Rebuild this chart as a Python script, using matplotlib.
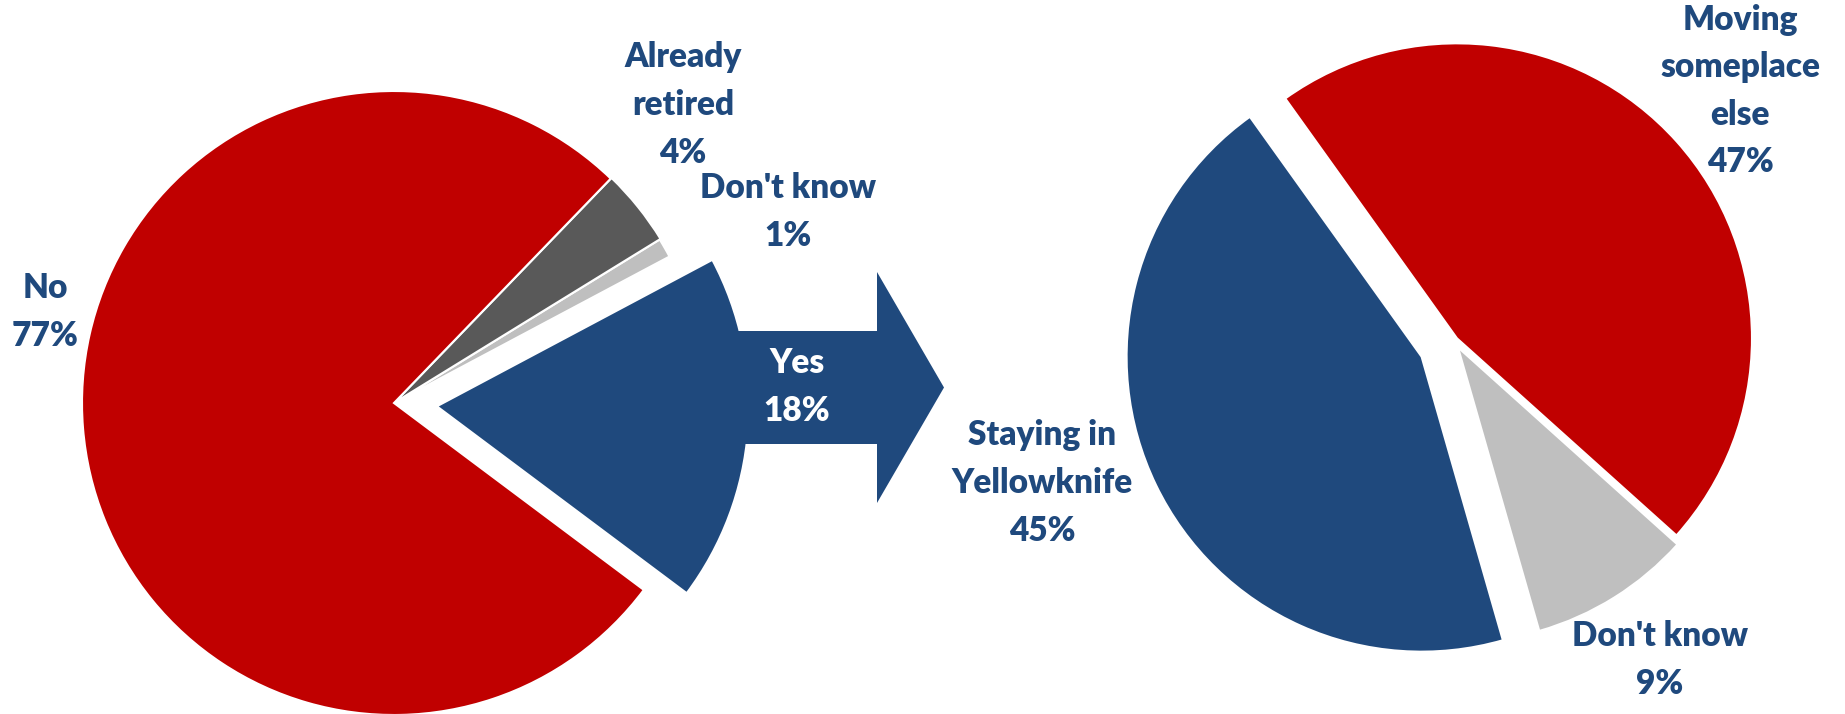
import matplotlib.pyplot as plt
from matplotlib.patches import FancyArrow

plt.rcParams['font.family'] = ['Lato', 'DejaVu Sans']

# Left pie: planning to retire
retire_labels = ['Yes', "Don't know", 'Already\nretired', 'No']
retire_values = [18, 1, 4, 77]
retire_colors = ['#1F497D', '#BFBFBF', '#595959', '#C00000']

# Right pie: where (among "Yes")
where_labels = ['Staying in\nYellowknife', "Don't know", 'Moving\nsomeplace\nelse']
where_values = [45, 9, 47]
where_colors = ['#1F497D', '#BFBFBF', '#C00000']

navy = '#1F497D'
W, H = 1845, 714

fig = plt.figure(figsize=(W / 100, H / 100), dpi=100)
ax = fig.add_axes([0, 0, 1, 1])

# explode offsets are in data units (pixels here)
ax.pie(retire_values, colors=retire_colors, explode=[43, 0, 1, 0],
       startangle=-36.8, counterclock=True, center=(394, 311), radius=312,
       wedgeprops=dict(edgecolor='white', linewidth=1.5))

ax.pie(where_values, colors=where_colors, explode=[36, 7.5, 4],
       startangle=125.6, counterclock=True, center=(1454, 373), radius=295,
       wedgeprops=dict(edgecolor='white', linewidth=1.5))

# block arrow leading from the "Yes" slice to the breakdown pie
arrow = FancyArrow(700, H - 387.5, 244, 0, width=113, head_width=231,
                   head_length=67, length_includes_head=True,
                   color=navy, linewidth=0, zorder=3)
ax.add_patch(arrow)

txt = dict(fontsize=24, fontweight='heavy', ha='center', va='center',
           linespacing=1.6, zorder=4)

left_pos = [(797, 387), (788, 212), (683, 105), (45, 312)]
for lab, val, (x, y) in zip(retire_labels, retire_values, left_pos):
    col = 'white' if lab == 'Yes' else navy
    ax.text(x, H - y, f'{lab}\n{val}%', color=col, **txt)

right_pos = [(1042, 483), (1660, 660), (1740, 91)]
for lab, val, (x, y) in zip(where_labels, where_values, right_pos):
    ax.text(x, H - y, f'{lab}\n{val}%', color=navy, **txt)

ax.set_xlim(0, W)
ax.set_ylim(0, H)
ax.set_aspect('equal')
ax.axis('off')

fig.savefig('out.png', dpi=100, facecolor='white')
